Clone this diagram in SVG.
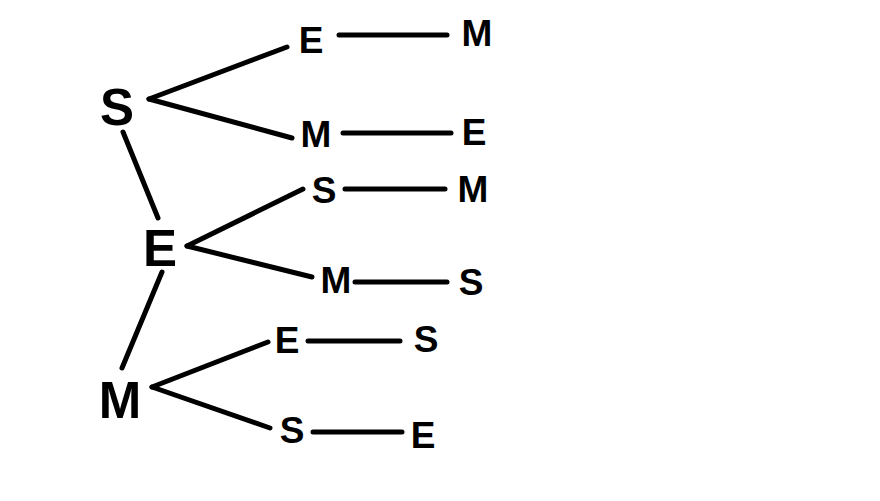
<svg xmlns="http://www.w3.org/2000/svg" width="880" height="501" viewBox="0 0 880 501">
<style>
text{font-family:"Liberation Sans",Arial,sans-serif;font-weight:bold;fill:#000;text-anchor:middle}
.big{font-size:51px}
.sm{font-size:37px}
#connectors line{stroke:#000;stroke-width:5;stroke-linecap:round}
</style>
<rect width="880" height="501" fill="#fff"/>
<g id="connectors">
<line x1="149" y1="99" x2="287" y2="47"/>
<line x1="149" y1="99" x2="292" y2="138"/>
<line x1="339" y1="35" x2="447" y2="35"/>
<line x1="343" y1="133" x2="451" y2="133"/>
<line x1="123" y1="132" x2="158" y2="218"/>
<line x1="187" y1="246" x2="303" y2="189"/>
<line x1="187" y1="246" x2="312" y2="277"/>
<line x1="345" y1="189" x2="445" y2="189"/>
<line x1="355" y1="282" x2="447" y2="282"/>
<line x1="162" y1="272" x2="122" y2="368"/>
<line x1="152" y1="387" x2="268" y2="342"/>
<line x1="152" y1="387" x2="270" y2="428"/>
<line x1="308" y1="341" x2="400" y2="341"/>
<line x1="313" y1="432" x2="402" y2="432"/>
</g>
<g id="n-S"><text class="big" x="117" y="125">S</text></g>
<g id="n-E"><text class="big" x="160" y="266">E</text></g>
<g id="n-M"><text class="big" x="120" y="418">M</text></g>
<g id="n-SE"><text class="sm" x="311" y="53">E</text></g>
<g id="n-SEM"><text class="sm" x="477" y="46">M</text></g>
<g id="n-SM"><text class="sm" x="316" y="147">M</text></g>
<g id="n-SME"><text class="sm" x="474" y="145">E</text></g>
<g id="n-ES"><text class="sm" x="324" y="203">S</text></g>
<g id="n-ESM"><text class="sm" x="473" y="202">M</text></g>
<g id="n-EM"><text class="sm" x="336" y="293">M</text></g>
<g id="n-EMS"><text class="sm" x="471" y="295">S</text></g>
<g id="n-ME"><text class="sm" x="287" y="353">E</text></g>
<g id="n-MES"><text class="sm" x="426" y="352">S</text></g>
<g id="n-MS"><text class="sm" x="292" y="443">S</text></g>
<g id="n-MSE"><text class="sm" x="423" y="448">E</text></g>
</svg>
